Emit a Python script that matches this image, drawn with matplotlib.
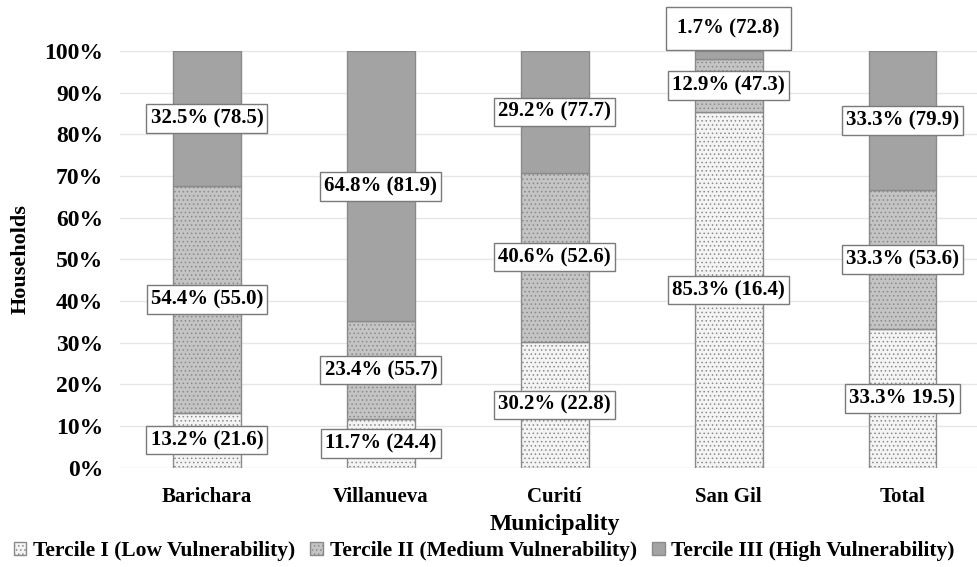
import numpy as np
import matplotlib.pyplot as plt
import matplotlib as mpl

mpl.rcParams['hatch.linewidth'] = 0.6

municipalities = ['Barichara', 'Villanueva', 'Curití', 'San Gil', 'Total']
tercile_names = ['Tercile I (Low Vulnerability)',
                 'Tercile II (Medium Vulnerability)',
                 'Tercile III (High Vulnerability)']

# share of households (%) per tercile
low = [13.2, 11.7, 30.2, 85.3, 33.3]
medium = [54.4, 23.4, 40.6, 12.9, 33.3]
high = [32.5, 64.8, 29.2, 1.7, 33.4]

# label texts, as printed in the figure
low_labels = ['13.2% (21.6)', '11.7% (24.4)', '30.2% (22.8)', '85.3% (16.4)', '33.3% 19.5)']
medium_labels = ['54.4% (55.0)', '23.4% (55.7)', '40.6% (52.6)', '12.9% (47.3)', '33.3% (53.6)']
high_labels = ['32.5% (78.5)', '64.8% (81.9)', '29.2% (77.7)', '1.7% (72.8)', '33.3% (79.9)']

fill_colors = ['#f4f4f4', '#c4c4c4', '#a3a3a3']
hatches = ['....', '....', None]

plt.rcParams['font.family'] = ['Liberation Serif', 'DejaVu Serif']
plt.rcParams['font.weight'] = 'bold'

fig = plt.figure(figsize=(9.78, 5.67), dpi=100)
ax = fig.add_axes([0.1227, 0.175, 0.889, 0.735])

x = np.arange(len(municipalities))
width = 0.39
series = [low, medium, high]
labels = [low_labels, medium_labels, high_labels]
bottom = np.zeros(len(x))
for i, vals in enumerate(series):
    vals = np.array(vals)
    bars = ax.bar(x, vals, width, bottom=bottom, color=fill_colors[i],
                  edgecolor='#8a8a8a', linewidth=1.0, hatch=hatches[i],
                  label=tercile_names[i], zorder=2)
    for j, b in enumerate(bars):
        yc = bottom[j] + vals[j] / 2
        pad = 0.2
        if vals[j] < 5:
            yc = 105.3
            pad = 0.55
        ax.text(x[j], yc, labels[i][j], ha='center', va='center', fontsize=15,
                fontweight='bold', zorder=4, clip_on=False,
                bbox=dict(boxstyle='square,pad=%s' % pad, fc='white', ec='#7a7a7a', lw=1.0))
    bottom += vals

ax.set_xlim(-0.5, 4.5)
ax.set_ylim(0, 100)
ax.set_yticks(np.arange(0, 101, 10))
ax.set_yticklabels(['%d%%' % v for v in range(0, 101, 10)])
ax.yaxis.grid(True, color='#e6e6e6', lw=1.0, zorder=0)
ax.set_xticks(x)
ax.set_xticklabels(municipalities)
ax.tick_params(axis='y', labelsize=17, length=0, pad=12)
ax.tick_params(axis='x', labelsize=15, length=0, pad=14)
for s in ax.spines.values():
    s.set_visible(False)

ax.set_ylabel('Households', fontsize=16, fontweight='bold', labelpad=10)
ax.set_xlabel('Municipality', fontsize=17, fontweight='bold', labelpad=5)

handles, lbls = ax.get_legend_handles_labels()
fig.legend(handles, lbls, loc='center', bbox_to_anchor=(0.495, 0.028), ncol=3,
           frameon=False, fontsize=15.5, handlelength=0.6, handleheight=0.6,
           handletextpad=0.3, columnspacing=0.7)

fig.savefig('out.png', dpi=100)
